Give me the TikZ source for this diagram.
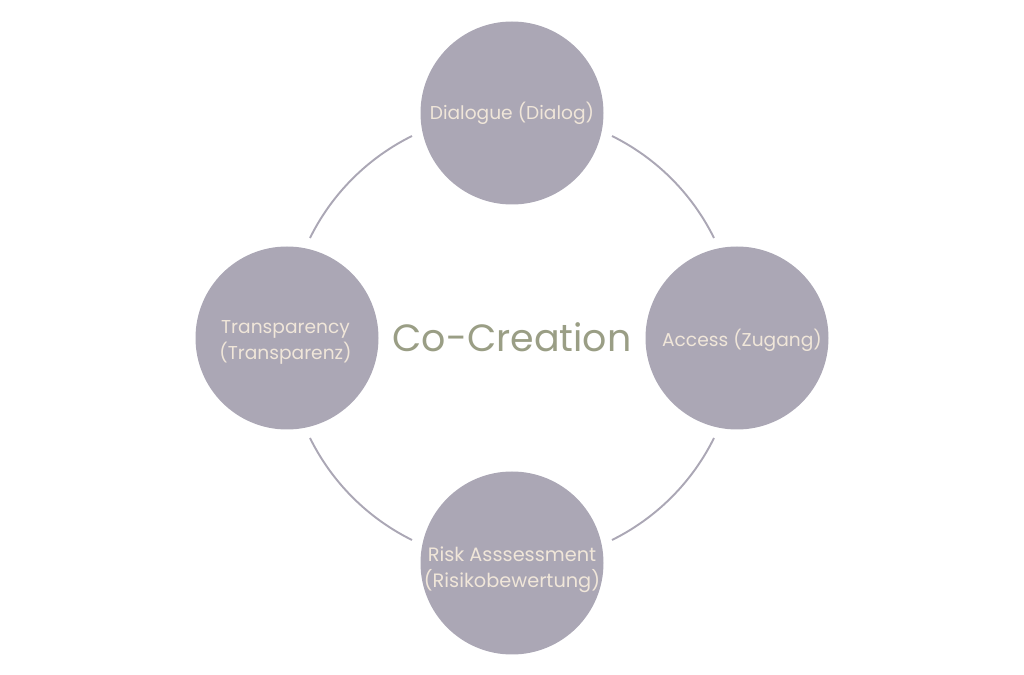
\documentclass[tikz,border=0pt]{standalone}
\usepackage{fontspec}
\setmainfont{Poppins}
\definecolor{bubblefill}{HTML}{ABA7B5}
\definecolor{bubbletext}{HTML}{F0E6D9}
\definecolor{titletext}{HTML}{9A9E85}
\tikzset{
  bubble/.style={circle, fill=bubblefill, minimum size=3.66cm, inner sep=0pt},
  bubblelabel/.style={text=bubbletext, align=center, inner sep=0pt, font=\fontsize{10.6}{14.8}\selectfont},
  ringarc/.style={draw=bubblefill, line width=1.1pt, looseness=.874},
}
\begin{document}
\begin{tikzpicture}
\useasboundingbox (0,0) rectangle (20.48,13.5);
\node[text=titletext, font=\fontsize{21.6}{25}\selectfont] (title) at (10.24,6.76){Co-Creation};
\node[bubble, label={[bubblelabel]center:Dialogue (Dialog)}] (dialogue) at (10.24,11.24){};
\node[bubble, label={[bubblelabel, xshift=.10cm, yshift=-.04cm]center:Access (Zugang)}] (access) at (14.74,6.74){};
\node[bubble, label={[bubblelabel, font=\fontsize{11}{14.8}\selectfont, yshift=-.14cm]center:Risk Asssessment\\(Risikobewertung)}] (risk) at (10.24,2.24){};
\node[bubble, label={[bubblelabel, xshift=-.03cm, yshift=-.08cm]center:Transparency\\(Transparenz)}] (transparency) at (5.74,6.74){};
\coordinate (dialoguea) at (12.24,10.78);
\coordinate (accessa) at (14.28,8.74);
\coordinate (accessb) at (14.28,4.74);
\coordinate (riskb) at (12.24,2.70);
\coordinate (riska) at (8.24,2.70);
\coordinate (transparencyb) at (6.20,4.74);
\coordinate (transparencya) at (6.20,8.74);
\coordinate (dialogueb) at (8.24,10.78);
\draw[ringarc](dialoguea) to[out=-26.3, in=116.3] (accessa);
\draw[ringarc](accessb) to[out=-116.3, in=26.3] (riskb);
\draw[ringarc](riska) to[out=153.7, in=-63.7] (transparencyb);
\draw[ringarc](transparencya) to[out=63.7, in=-153.7] (dialogueb);
\end{tikzpicture}
\end{document}
